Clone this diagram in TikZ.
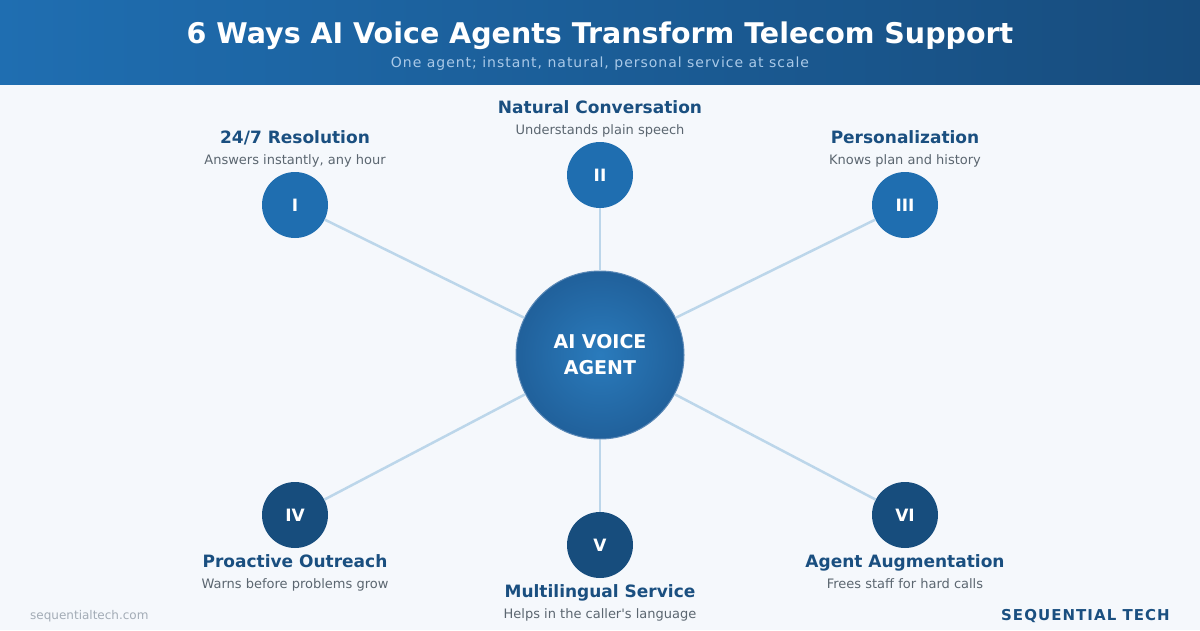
\documentclass[tikz,border=0pt]{standalone}
\usepackage{fontspec}
\setmainfont{DejaVu Sans}[Ligatures=TeXOff]
\newfontfamily\brandfont[LetterSpace=7]{DejaVu Sans}
\newfontfamily\subfont[LetterSpace=7]{DejaVu Sans}
\usetikzlibrary{positioning}

\definecolor{pagebg}{HTML}{F5F8FC}
\definecolor{hdrleft}{HTML}{1F6EB1}
\definecolor{hdrright}{HTML}{174C7D}
\definecolor{subtxt}{HTML}{A9C9E8}
\definecolor{wayup}{HTML}{1F6EB0}
\definecolor{waydown}{HTML}{174D7D}
\definecolor{hubin}{HTML}{2A7BBC}
\definecolor{hubout}{HTML}{17467A}
\definecolor{hubrim}{HTML}{5A88B6}
\definecolor{spokecol}{HTML}{BCD6EA}
\definecolor{titlecol}{HTML}{1A4F80}
\definecolor{desccol}{HTML}{5B6670}
\definecolor{sitecol}{HTML}{A3ACB6}

\pgfdeclareradialshading{hubshade}{\pgfpoint{0bp}{0bp}}{color(0bp)=(hubin); color(50bp)=(hubout); color(100bp)=(hubout)}

\begin{document}
\begin{tikzpicture}[x=1pt,y=1pt,
    hub/.style={circle, minimum size=168pt, inner sep=0pt, shading=hubshade, draw=hubrim, line width=1pt, text=white, align=center, font=\fontsize{19}{26}\selectfont\bfseries},
    way/.style={circle, minimum size=66pt, inner sep=0pt, text=white, font=\fontsize{17}{20}\selectfont\bfseries},
    upper/.style={way, fill=wayup},
    lower/.style={way, fill=waydown},
    waytitle/.style={inner sep=0pt, text height=13pt, text depth=4pt, text=titlecol, font=\fontsize{17}{20}\selectfont\bfseries},
    waydesc/.style={inner sep=0pt, text height=10pt, text depth=3pt, text=desccol, font=\fontsize{13}{16}\selectfont},
    spoke/.style={draw=spokecol, line width=2.5pt}]
    \useasboundingbox (0,0) rectangle (1200,-630);
    \fill[pagebg] (0,0) rectangle (1200,-630);
    \shade[left color=hdrleft, right color=hdrright] (0,0) rectangle (1200,-84);
    \node(title)[anchor=base, text=white, font=\fontsize{28.5}{32}\selectfont\bfseries] at (600,-43) {6 Ways AI Voice Agents Transform Telecom Support};
    \node(subtitle)[anchor=base, text=subtxt, font=\fontsize{14}{16}\selectfont\subfont] at (600,-67) {One agent; instant, natural, personal service at scale};

    \node(hub)[hub] at (600,-355) {AI VOICE\\AGENT};
    \node(w1)[upper] at (295,-205) {I};
    \node(w2)[upper] at (600,-175) {II};
    \node(w3)[upper] at (905,-205) {III};
    \node(w4)[lower] at (295,-515) {IV};
    \node(w5)[lower] at (600,-545) {V};
    \node(w6)[lower] at (905,-515) {VI};
    \draw[spoke](hub) -- (w1);
    \draw[spoke](hub) -- (w2);
    \draw[spoke](hub) -- (w3);
    \draw[spoke](hub) -- (w4);
    \draw[spoke](hub) -- (w5);
    \draw[spoke](hub) -- (w6);

    \node(d1)[waydesc, above=4pt of w1]{Answers instantly, any hour};
    \node(t1)[waytitle, above=7pt of d1]{24/7 Resolution};
    \node(d2)[waydesc, above=4pt of w2]{Understands plain speech};
    \node(t2)[waytitle, above=7pt of d2]{Natural Conversation};
    \node(d3)[waydesc, above=4pt of w3]{Knows plan and history};
    \node(t3)[waytitle, above=7pt of d3]{Personalization};
    \node(t4)[waytitle, below=6pt of w4]{Proactive Outreach};
    \node(d4)[waydesc, below=7pt of t4]{Warns before problems grow};
    \node(t5)[waytitle, below=6pt of w5]{Multilingual Service};
    \node(d5)[waydesc, below=7pt of t5]{Helps in the caller's language};
    \node(t6)[waytitle, below=6pt of w6]{Agent Augmentation};
    \node(d6)[waydesc, below=7pt of t6]{Frees staff for hard calls};

    \node(site)[anchor=base west, inner sep=0pt, text=sitecol, font=\fontsize{12}{14}\selectfont] at (30,-619) {sequentialtech.com};
    \node(brand)[anchor=base east, inner sep=0pt, text=titlecol, font=\fontsize{15}{18}\selectfont\brandfont\bfseries] at (1170,-620) {SEQUENTIAL TECH};
\end{tikzpicture}
\end{document}
